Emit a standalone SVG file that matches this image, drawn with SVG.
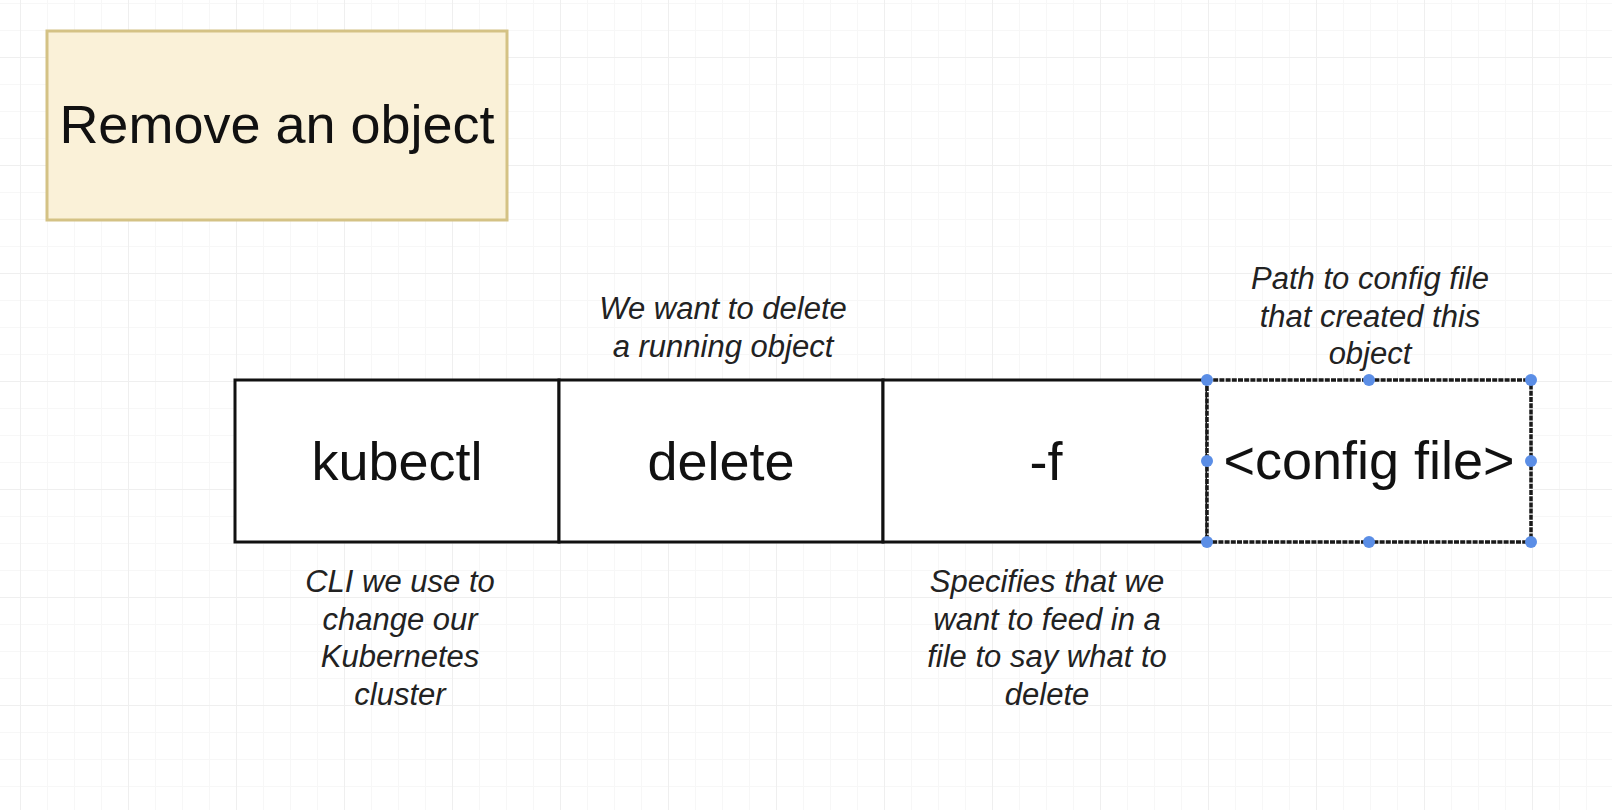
<svg xmlns="http://www.w3.org/2000/svg" width="1612" height="810" viewBox="0 0 1612 810">
  <style>
    .main { font-family: "Liberation Sans", Arial, sans-serif; font-size: 54px; fill: #111; text-anchor: middle; }
    .note { font-family: "Liberation Sans", Arial, sans-serif; font-size: 31px; font-style: italic; fill: #222; text-anchor: middle; }
    .cell { fill: #ffffff; stroke: #111; stroke-width: 3; }
    .handle { fill: #5b8ee6; stroke: none; }
  </style>
  <defs>
    <pattern id="grid" patternUnits="userSpaceOnUse" x="20" y="57" width="108" height="108">
      <rect x="27" y="0" width="1" height="108" fill="#f7f7f7"/>
      <rect x="54" y="0" width="1" height="108" fill="#f7f7f7"/>
      <rect x="81" y="0" width="1" height="108" fill="#f7f7f7"/>
      <rect x="0" y="27" width="108" height="1" fill="#f7f7f7"/>
      <rect x="0" y="54" width="108" height="1" fill="#f7f7f7"/>
      <rect x="0" y="81" width="108" height="1" fill="#f7f7f7"/>
      <rect x="0" y="0" width="1" height="108" fill="#efefef"/>
      <rect x="0" y="0" width="108" height="1" fill="#efefef"/>
    </pattern>
  </defs>

  <rect x="0" y="0" width="1612" height="810" fill="#ffffff"/>
  <rect x="0" y="0" width="1612" height="810" fill="url(#grid)"/>

  <g id="title">
    <rect x="47" y="31" width="460" height="189" fill="#faf1d8" stroke="#d4c285" stroke-width="3"/>
    <text class="main" x="277" y="143">Remove an object</text>
  </g>

  <g id="cell-kubectl">
    <rect class="cell" x="235" y="380" width="324" height="162"/>
    <text class="main" x="397" y="480">kubectl</text>
  </g>

  <g id="cell-delete">
    <rect class="cell" x="559" y="380" width="324" height="162"/>
    <text class="main" x="721" y="480">delete</text>
  </g>

  <g id="cell-f">
    <rect class="cell" x="883" y="380" width="324" height="162"/>
    <text class="main" x="1046" y="480">-f</text>
  </g>

  <g id="cell-config">
    <rect x="1207" y="380" width="324" height="162" fill="#ffffff" stroke="#1a1a1a" stroke-width="3.5" stroke-dasharray="5 1.2"/>
    <text class="main" x="1369" y="479">&lt;config file&gt;</text>
    <circle class="handle" cx="1207" cy="380" r="6"/>
    <circle class="handle" cx="1369" cy="380" r="6"/>
    <circle class="handle" cx="1531" cy="380" r="6"/>
    <circle class="handle" cx="1207" cy="461" r="6"/>
    <circle class="handle" cx="1531" cy="461" r="6"/>
    <circle class="handle" cx="1207" cy="542" r="6"/>
    <circle class="handle" cx="1369" cy="542" r="6"/>
    <circle class="handle" cx="1531" cy="542" r="6"/>
  </g>

  <g id="note-delete">
    <text class="note" x="723" y="319">We want to delete</text>
    <text class="note" x="723" y="357">a running object</text>
  </g>

  <g id="note-config">
    <text class="note" x="1370" y="289">Path to config file</text>
    <text class="note" x="1370" y="327">that created this</text>
    <text class="note" x="1370" y="364">object</text>
  </g>

  <g id="note-kubectl">
    <text class="note" x="400" y="592">CLI we use to</text>
    <text class="note" x="400" y="630">change our</text>
    <text class="note" x="400" y="667">Kubernetes</text>
    <text class="note" x="400" y="705">cluster</text>
  </g>

  <g id="note-f">
    <text class="note" x="1047" y="592">Specifies that we</text>
    <text class="note" x="1047" y="630">want to feed in a</text>
    <text class="note" x="1047" y="667">file to say what to</text>
    <text class="note" x="1047" y="705">delete</text>
  </g>

  <g id="connectors"/>
</svg>
